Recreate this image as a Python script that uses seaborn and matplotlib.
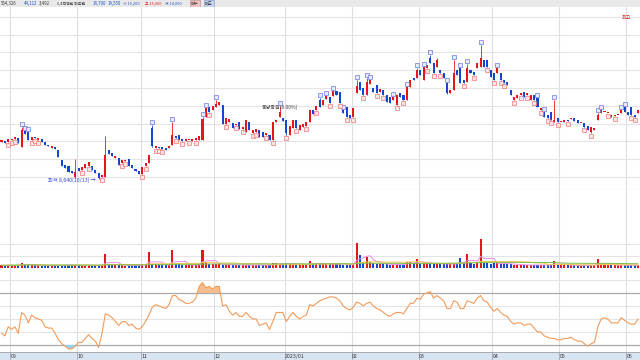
import numpy as np
import pandas as pd
import matplotlib
matplotlib.use("Agg")
import matplotlib.pyplot as plt
import seaborn as sns

sns.set_theme(style="white")
plt.rcParams['font.family'] = ['Noto Sans CJK KR', 'DejaVu Sans']

# ---------------- data ----------------
opens = [10400, 10450, 10400, 10500, 10550, 10600, 10150, 10950, 10900, 10500,
         10650, 10500, 10550, 10400, 10250, 10100, 10150, 10000, 9500, 9250,
         9200, 8950, 8650, 9100, 9000, 9100, 9200, 9200, 9000, 8850,
         8650, 8650, 10000, 9850, 9600, 9600, 9350, 9450, 9550, 9250,
         9050, 8950, 8800, 9200, 9350, 11100, 10100, 10150, 10150, 10100,
         10100, 10250, 10700, 10750, 10550, 10450, 10500, 10450, 10500, 10500,
         10500, 11650, 12150, 12000, 12150, 12250, 12250, 11300, 11400, 11350,
         11250, 11400, 11050, 10900, 11400, 10850, 10900, 11000, 10900, 10750,
         10750, 10500, 11400, 11650, 11600, 11500, 10750, 11100, 11500, 11000,
         11150, 11200, 11400, 12000, 12000, 12500, 12250, 12550, 12650, 12700,
         12950, 12900, 12000, 12150, 11750, 11650, 12850, 13400, 13100, 12750,
         13300, 13100, 13250, 12900, 13000, 12750, 12650, 12500, 12250, 12850,
         12750, 12500, 13150, 13600, 13600, 14000, 13500, 14100, 14600, 14350,
         14150, 14000, 13850, 13350, 12850, 13000, 14000, 14100, 13500, 13400,
         14000, 13900, 14100, 14150, 14500, 14500, 14000, 13850, 13850, 13850,
         13500, 13400, 13000, 12500, 12600, 12750, 12900, 12750, 12500, 12750,
         12600, 12000, 11900, 11750, 11900, 11400, 11600, 11400, 11400, 11500,
         11550, 11600, 11500, 11350, 11350, 11200, 10900, 11000, 11500, 11850,
         11900, 11850, 11750, 11700, 11750, 11850, 12150, 11900, 12150, 11750,
         11850]
closes = [10500, 10350, 10550, 10550, 10650, 10350, 11000, 10800, 10500, 10650,
          10600, 10600, 10400, 10250, 10200, 10200, 10050, 9650, 9200, 9100,
          8900, 8850, 8900, 8950, 9150, 9300, 9400, 9000, 8850, 8600,
          8750, 9750, 9800, 9700, 9700, 9250, 9500, 9500, 9200, 9100,
          8950, 8800, 9150, 9350, 9750, 10200, 10200, 10100, 10050, 10000,
          10200, 10750, 10600, 10500, 10450, 10550, 10500, 10550, 10600, 10700,
          11550, 12100, 11900, 12200, 12300, 12400, 11300, 11600, 11550, 11100,
          11300, 11050, 11150, 11500, 11000, 11000, 11050, 10650, 10650, 10850,
          10500, 11400, 11500, 11900, 11450, 10850, 11200, 11500, 11100, 11250,
          11300, 11400, 12000, 11800, 12200, 12150, 12500, 12700, 12350, 12950,
          12750, 12350, 11850, 11650, 11600, 12100, 13200, 13000, 12750, 13400,
          13500, 12900, 12850, 13050, 12750, 12400, 12350, 12650, 12750, 12650,
          12500, 13150, 13500, 13500, 14000, 13750, 14150, 14250, 14350, 13850,
          14500, 13850, 13600, 12850, 13000, 13850, 13750, 13350, 13350, 14100,
          13850, 13750, 14350, 14600, 14150, 14150, 13650, 13500, 14100, 13500,
          13350, 13250, 12750, 12650, 12750, 12850, 12650, 12850, 12750, 12500,
          12150, 12100, 11650, 11600, 11500, 11500, 11400, 11400, 11500, 11450,
          11600, 11450, 11350, 11350, 11150, 11000, 11150, 11100, 11750, 12000,
          11900, 11850, 11650, 11750, 11750, 12000, 11900, 11750, 11750, 11650,
          12000]
high_wicks = {6: 11150, 22: 9550, 31: 10700, 45: 11250, 51: 11400, 60: 11650,
              64: 12500, 83: 12200, 95: 12600, 106: 13500, 109: 13600,
              124: 14100, 128: 14750, 130: 14600, 135: 14500, 139: 14300,
              143: 15250, 165: 12500, 178: 11850}
low_wicks = {29: 8550, 22: 8600, 45: 10150, 85: 10750, 133: 12800, 176: 10850}
volumes = [260, 240, 280, 250, 300, 260, 500, 300, 280, 250,
           240, 260, 230, 250, 240, 230, 250, 280, 300, 270,
           260, 250, 300, 260, 240, 250, 260, 240, 250, 280,
           260, 1300, 400, 300, 260, 250, 240, 230, 240, 250,
           240, 260, 300, 350, 1500, 420, 300, 280, 260, 250,
           280, 1700, 450, 350, 300, 280, 260, 250, 300, 400,
           1700, 600, 400, 350, 380, 350, 300, 320, 280, 300,
           260, 280, 260, 300, 280, 270, 260, 280, 260, 250,
           280, 500, 450, 400, 350, 450, 350, 380, 300, 280,
           300, 320, 700, 400, 380, 350, 400, 380, 350, 420,
           380, 350, 300, 320, 280, 300, 2300, 1200, 600, 1050,
           600, 450, 400, 380, 350, 330, 320, 300, 350, 320,
           300, 600, 600, 450, 800, 420, 500, 450, 400, 380,
           420, 380, 350, 400, 380, 400, 380, 900, 450, 1350,
           500, 400, 450, 2700, 450, 450, 420, 450, 430, 420,
           400, 380, 350, 300, 280, 300, 280, 260, 270, 280,
           300, 280, 260, 270, 300, 700, 300, 280, 260, 250,
           240, 250, 240, 230, 240, 250, 260, 250, 800, 400,
           320, 280, 260, 250, 240, 300, 280, 260, 250, 240,
           260]
osc = [39, 37, 44, 42, 44, 39, 55, 53, 47, 53,
       51, 50, 49, 44, 43, 43, 39, 34, 31, 29,
       27, 27, 29, 32, 32, 35, 38, 35, 33, 28,
       39, 54, 53, 51, 48, 45, 48, 48, 45, 46,
       43, 42, 44, 48, 53, 59, 61, 60, 59, 58,
       61, 68, 68, 65, 64, 62, 62, 63, 66, 75,
       78, 74, 75, 73, 75, 75, 60, 61, 56, 53,
       55, 52, 52, 55, 52, 50, 50, 45, 46, 47,
       42, 48, 55, 55, 55, 48, 52, 55, 52, 50,
       52, 53, 61, 60, 62, 64, 65, 66, 67, 67,
       66, 64, 60, 58, 57, 59, 63, 62, 60, 62,
       63, 60, 58, 57, 55, 53, 52, 54, 55, 55,
       54, 58, 62, 62, 66, 65, 69, 70, 71, 66,
       68, 66, 64, 58, 58, 64, 63, 58, 58, 64,
       63, 62, 66, 68, 64, 63, 59, 56, 58, 55,
       53, 52, 48, 46, 47, 47, 45, 46, 46, 43,
       40, 40, 37, 36, 35, 35, 34, 34, 35, 35,
       36, 34, 33, 33, 31, 29, 31, 32, 44, 50,
       51, 50, 47, 47, 47, 51, 49, 47, 46, 46,
       50]
# candles carrying a signal box above (blue) / below (red)
blue_sig_idx = [6, 7, 8, 45, 51, 60, 61, 64, 83, 95, 97, 99, 102, 106, 109,
                110, 117, 121, 124, 126, 128, 133, 135, 137, 139, 143, 148,
                160, 162, 165, 178, 179, 185, 186]
red_sig_idx = [2, 3, 4, 9, 10, 11, 24, 26, 30, 36, 37, 42, 43, 46, 47, 48, 52,
               54, 56, 58, 62, 67, 70, 72, 75, 76, 79, 81, 85, 88, 91, 94, 98,
               101, 103, 105, 108, 112, 114, 118, 120, 127, 129, 131, 138, 141,
               145, 147, 149, 150, 153, 155, 157, 159, 161, 163, 164, 166, 169,
               174, 176, 181, 183, 188, 189]
month_labels = ["09", "10", "11", "12", "2023/01", "02", "03", "04", "05", "06"]
month_start_idx = [3, 23, 42, 64, 85, 105, 125, 147, 167, 187]
header_texts = ["564,326", "44,112", "3,492", "6,4억백만 매도변", "14,700",
                "14,550", "시 15,200", "고 15,600", "저 14,050"]
header_colors = ["#333333", "#2255cc", "#333333", "#333333", "#2255cc",
                 "#2255cc", "#2255cc", "#e02020", "#2255cc"]
header_px = [1, 24, 39, 57, 93, 108, 123, 145, 165]
low_label = "최저 8,640(10/13)"
event_label = "동양증권(8.00%)"
top_label = "최고"

# ---------------- derived ----------------
n = len(closes)
idx = np.arange(n)
O = np.array(opens, float)
C = np.array(closes, float)
H = np.maximum(O, C)
L = np.minimum(O, C)
for k, v in high_wicks.items():
    H[k] = v
for k, v in low_wicks.items():
    L[k] = v
up = C >= O
RED = "#e8141c"
BLUE = "#1446d2"
cols = np.where(up, RED, BLUE)
XL = (-0.45, n - 0.4)

fig = plt.figure(figsize=(6.4, 3.6), dpi=100)
fig.patch.set_facecolor("white")


def fax(top, bottom):
    return fig.add_axes([0, 1 - bottom / 360, 1, (bottom - top) / 360])


ax_h = fax(0, 7)
ax_p = fax(7, 190)
ax_v = fax(190, 268)
ax_o = fax(268, 352)
ax_x = fax(352, 360)

for ax in (ax_h, ax_p, ax_v, ax_o, ax_x):
    ax.set_xlim(*XL)
    ax.set_xticks([])
    ax.set_yticks([])
    for s in ax.spines.values():
        s.set_visible(False)
    ax.set_facecolor("white")

# header
ax_h.set_facecolor("#e9e9e9")
ax_h.set_xlim(0, 640)
ax_h.set_ylim(0, 1)
for t, c, xx in zip(header_texts, header_colors, header_px):
    fs = 2.8 if any(ord(ch) > 0x3000 for ch in t) else 3.1
    ax_h.text(xx, 0.5, t, fontsize=fs, color=c, va="center", ha="left")
ax_h.text(191, 0.5, "매수", fontsize=3.0, va="center", ha="left", color="#333333",
          bbox=dict(boxstyle="square,pad=0.3", fc="#f2c4c4", ec="#c08080", lw=0.4))
ax_h.text(205, 0.5, "매도", fontsize=3.0, va="center", ha="left", color="#333333",
          bbox=dict(boxstyle="square,pad=0.3", fc="#c4d4f2", ec="#8090c0", lw=0.4))

# month grid lines
for ax in (ax_p, ax_v, ax_o):
    for m in month_start_idx:
        ax.axvline(m - 0.5, color="#dedede", lw=0.8, zorder=0)

# price panel
ax_p.set_ylim(8000, 17150)
for yv in np.arange(8650, 17000, 890):
    ax_p.axhline(yv, color="#e4e4e4", lw=0.8, zorder=0)
ax_p.vlines(idx, L, H, colors=cols, lw=0.6, zorder=2)
body_h = np.maximum(np.abs(C - O), 40)
ax_p.bar(idx, body_h, bottom=np.minimum(O, C), width=0.62, color=cols,
         linewidth=0, zorder=3)
bs = np.array(blue_sig_idx)
rs = np.array(red_sig_idx)
ax_p.plot(bs, H[bs] + 170, ls="none", marker="s", ms=2.4, mfc="#e8eafc",
          mec="#5a6ae0", mew=0.45, zorder=4)
ax_p.plot(rs, L[rs] - 170, ls="none", marker="s", ms=2.4, mfc="#fde4e4",
          mec="#ec6a6a", mew=0.45, zorder=4)
i_low = int(np.argmin(L))
ax_p.text(i_low - 0.8, L[i_low] - 60, low_label + " →", fontsize=3.8,
          color="#3344cc", ha="right", va="center")
ax_p.text(83, 12000, event_label, fontsize=3.6, color="#444444",
          ha="center", va="bottom")
ax_p.text(0.972, 0.945, top_label, transform=ax_p.transAxes, fontsize=3.6,
          color="#e02020", ha="left", va="center")
ax_p.axhline(8000, color="#c8c8c8", lw=0.8)

# volume panel
vol = np.array(volumes, float)
ax_v.set_ylim(0, 7300)
for yv in (1120, 2250):
    ax_v.axhline(yv, color="#e4e4e4", lw=0.8, zorder=0)
ax_v.bar(idx, vol, width=0.62, color=cols, linewidth=0, zorder=3)
vdf = pd.DataFrame({"i": idx, "v": vol})
for w, c in ((5, "#e98be9"), (20, "#f2c84b"), (60, "#7cbf4a")):
    vdf[f"ma{w}"] = vdf["v"].rolling(w, min_periods=1).mean()
    sns.lineplot(data=vdf, x="i", y=f"ma{w}", ax=ax_v, color=c, lw=0.7, zorder=4)
ax_v.set_xlabel("")
ax_v.set_ylabel("")
ax_v.set_xticks([])
ax_v.set_yticks([])
ax_v.set_xlim(*XL)
ax_v.axhline(0, color="#c8c8c8", lw=0.8)

# oscillator panel
o = np.array(osc, float)
ax_o.set_ylim(24.6, 89.2)
for yv in (40, 50, 60, 80):
    ax_o.axhline(yv, color="#e4e4e4", lw=0.8, zorder=0)
for yv in (30, 70):
    ax_o.axhline(yv, color="#a8a8a8", lw=0.9, zorder=1)
ax_o.fill_between(idx, o, 70, where=o > 70, interpolate=True,
                  color="#f7bd90", zorder=2, lw=0)
ax_o.fill_between(idx, o, 30, where=o < 30, interpolate=True,
                  color="#8fd6f2", zorder=2, lw=0)
odf = pd.DataFrame({"i": idx, "osc": o})
sns.lineplot(data=odf, x="i", y="osc", ax=ax_o, color="#f29b58", lw=0.8, zorder=3)
ax_o.set_xlabel("")
ax_o.set_ylabel("")
ax_o.set_xticks([])
ax_o.set_yticks([])
ax_o.set_xlim(*XL)

# x axis bar
ax_x.set_facecolor("#d9e4f2")
ax_x.set_ylim(0, 1)
ax_x.axhline(1, color="#a0a0a0", lw=1.2)
for m, lab in zip(month_start_idx, month_labels):
    ax_x.axvline(m - 0.5, color="#9aa8bb", lw=0.6)
    ax_x.text(m - 0.3, 0.45, lab, fontsize=3.8, color="#333333",
              ha="left", va="center")

fig.savefig("out.png", dpi=100)
